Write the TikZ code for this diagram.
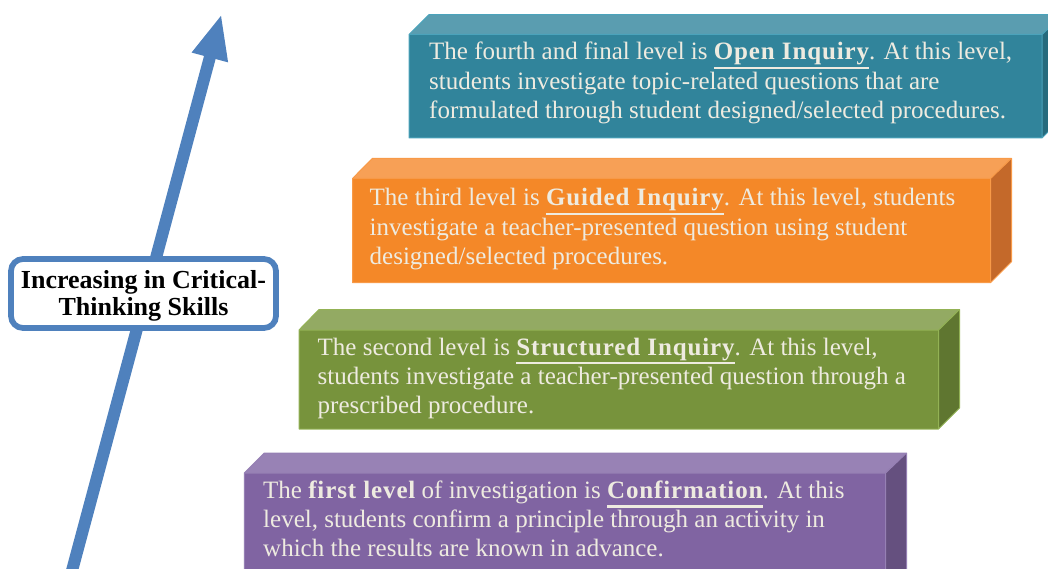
\documentclass[tikz,border=0pt]{standalone}
\usepackage{fontspec}
\setmainfont{Liberation Serif}
\newfontfamily\bfam{Liberation Serif}[LetterSpace=3.5]
\usetikzlibrary{arrows.meta}
\definecolor{txtc}{HTML}{EEEBE0}
\definecolor{arrc}{HTML}{4F81BD}
\definecolor{tealF}{HTML}{31849B}\definecolor{tealT}{HTML}{5A9DB0}\definecolor{tealS}{HTML}{276B7D}\definecolor{tealB}{HTML}{4BA3BB}
\definecolor{oraF}{HTML}{F48828}\definecolor{oraT}{HTML}{F7A056}\definecolor{oraS}{HTML}{C4692A}\definecolor{oraB}{HTML}{F89A48}
\definecolor{grnF}{HTML}{77933C}\definecolor{grnT}{HTML}{93AA63}\definecolor{grnS}{HTML}{5F7630}\definecolor{grnB}{HTML}{93B255}
\definecolor{purF}{HTML}{8064A2}\definecolor{purT}{HTML}{9882B5}\definecolor{purS}{HTML}{65507F}\definecolor{purB}{HTML}{9680B4}
\newcommand\ulw[1]{\setbox0\hbox{\bfam\bfseries #1}\rlap{\rule[-9pt]{\wd0}{2.2pt}}\box0}
\newcommand\bw[1]{{\bfam\bfseries #1}}
% slab: left, toptop, fronttop, bottom, frontright, colour prefix
\newcommand\slab[6]{%
  \fill[#6T] (#1,#3) -- (#1+20,#2) -- (#5+21,#2) -- (#5,#3) -- cycle;
  \fill[#6S] (#5,#3) -- (#5+21,#2) -- (#5+21,#4-21) -- (#5,#4) -- cycle;
  \fill[#6F] (#1,#3) rectangle (#5,#4);
  \draw[#6B, line width=1pt, line join=round]
    (#1,#3) -- (#1+20,#2) -- (#5+21,#2) -- (#5+21,#4-21) -- (#5,#4) -- (#1,#4) -- cycle
    (#1,#3) -- (#5,#3) -- (#5+21,#2) (#5,#3) -- (#5,#4);
}
\begin{document}
\begin{tikzpicture}[x=1pt,y=-1pt,
  linetext/.style={anchor=base west, inner sep=0pt, text=txtc, font=\fontsize{25}{29}\selectfont},
  labelbox/.style={draw=arrc, fill=white, line width=5.7pt, rounded corners=12pt,
     minimum width=265pt, minimum height=69pt, inner sep=0pt, align=center,
     font=\fontsize{26}{27}\selectfont\bfseries}]
\clip (0,0) rectangle (1048,569);
\fill[white] (0,0) rectangle (1048,569);

% level boxes
\slab{409}{14.7}{34.5}{138}{1042}{teal}
\slab{352.5}{158.3}{178.5}{282.7}{990.5}{ora}
\slab{299}{309.5}{330}{429}{938.5}{grn}
\slab{244.3}{453}{473}{600}{885.5}{pur}

% texts
\node[linetext] (t4a) at (429,60) {The fourth and final level is \ulw{Open Inquiry}. At this level,};
\node[linetext] (t4b) at (429,89.5) {students investigate topic-related questions that are};
\node[linetext] (t4c) at (429,119) {formulated through student designed/selected procedures.};

\node[linetext] (t3a) at (369.5,206) {The third level is \ulw{Guided Inquiry}. At this level, students};
\node[linetext] (t3b) at (369.5,235) {investigate a teacher-presented question using student};
\node[linetext] (t3c) at (369.5,264) {designed/selected procedures.};

\node[linetext] (t2a) at (317.5,355) {The second level is \ulw{Structured Inquiry}. At this level,};
\node[linetext] (t2b) at (317.5,384) {students investigate a teacher-presented question through a};
\node[linetext] (t2c) at (317.5,413) {prescribed procedure.};

\node[linetext] (t1a) at (263,498.5) {The \bw{first level} of investigation is \ulw{Confirmation}. At this};
\node[linetext] (t1b) at (263,527.5) {level, students confirm a principle through an activity in};
\node[linetext] (t1c) at (263,556.5) {which the results are known in advance.};

% arrow
\coordinate (abot) at (69.5,580);
\coordinate (atip) at (221.5,14);
\draw[arrc, line width=12pt, -{Triangle[length=45pt,width=34pt]}] (abot) -- (atip);

% label
\node[labelbox] (lab) at (143.5,293.5) {\rule{0pt}{22pt}Increasing in Critical-\\Thinking Skills};
\end{tikzpicture}
\end{document}
